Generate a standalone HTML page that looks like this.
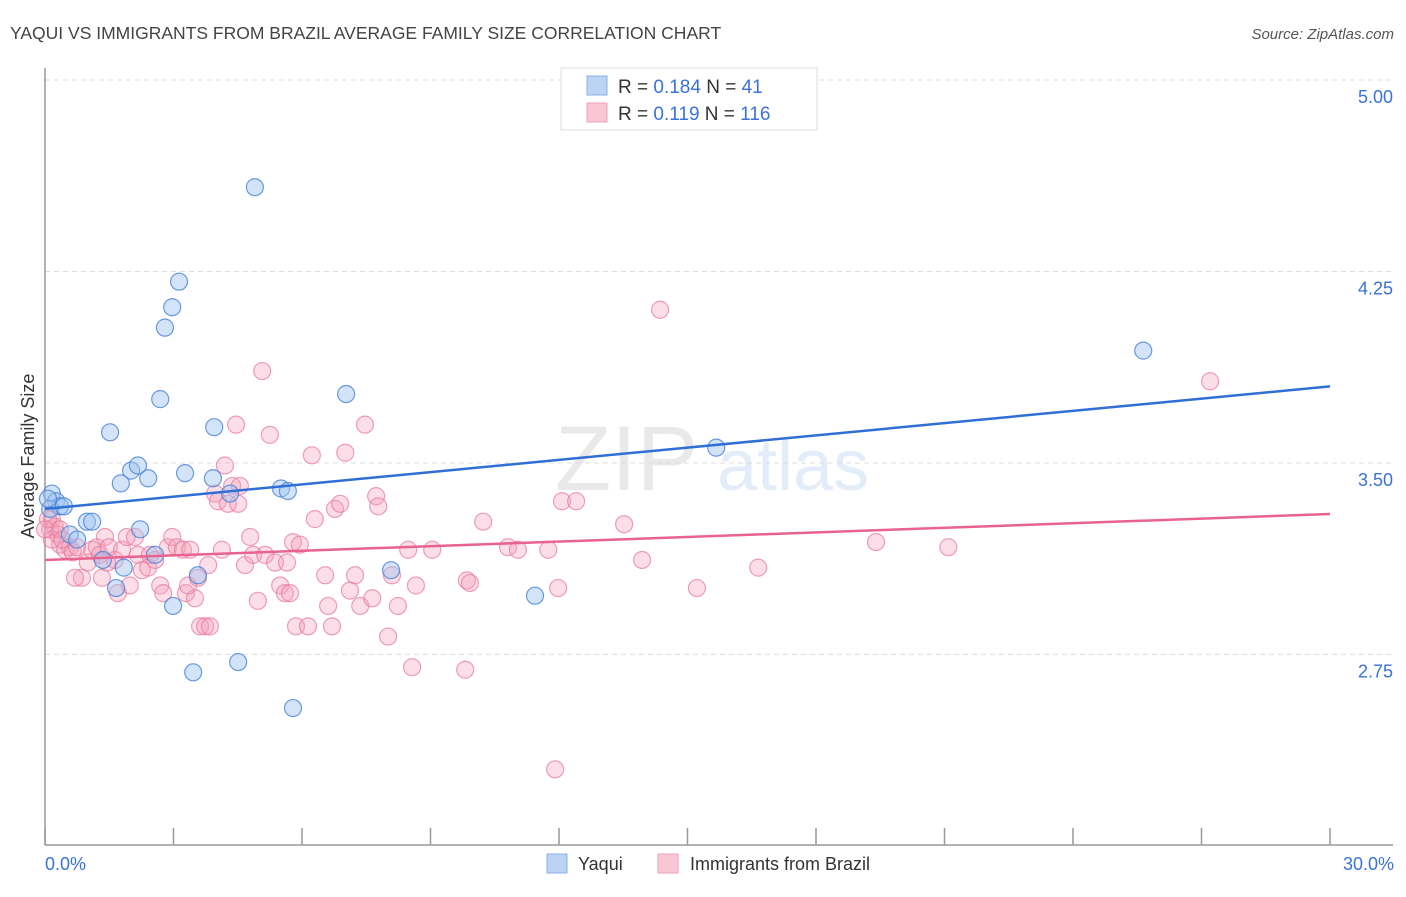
<!DOCTYPE html>
<html><head><meta charset="utf-8"><style>
body{margin:0;background:#fff;font-family:"Liberation Sans",sans-serif;}
svg text{font-family:"Liberation Sans",sans-serif;}
</style></head><body>
<svg id="chart" width="1406" height="892" xmlns="http://www.w3.org/2000/svg">
<text x="10" y="39" font-size="17.5" fill="#444">YAQUI VS IMMIGRANTS FROM BRAZIL AVERAGE FAMILY SIZE CORRELATION CHART</text>
<text x="1394" y="39" font-size="15" fill="#555" text-anchor="end" font-style="italic">Source: ZipAtlas.com</text>
<g opacity="0.18">
<text x="555" y="490" font-size="92" font-family="Liberation Serif" fill="#888">ZIP</text>
<text x="717" y="490" font-size="72" fill="#6b9ee0">atlas</text>
</g>
<g id="grid"></g>
<g id="axes"></g>
<g id="pink"></g>
<g id="blue"></g>
<g id="lines"></g>
<text transform="translate(34,456) rotate(-90)" font-size="18" fill="#333" text-anchor="middle">Average Family Size</text>
<text x="45" y="870" font-size="18" fill="#3a72d8">0.0%</text>
<text x="1394" y="870" font-size="18" fill="#3a72d8" text-anchor="end">30.0%</text>
<g>
<rect x="561" y="68" width="256" height="62" fill="#fff" stroke="#ddd"/>
<rect x="587" y="76" width="20" height="19" fill="#bcd4f4" stroke="#8ab0e8"/>
<rect x="587" y="103" width="20" height="19" fill="#f8c6d4" stroke="#eea3bb"/>
<text x="618" y="93" font-size="19" fill="#333">R = <tspan fill="#3a72d8">0.184</tspan>   N = <tspan fill="#3a72d8">  41</tspan></text>
<text x="618" y="120" font-size="19" fill="#333">R = <tspan fill="#3a72d8"> 0.119</tspan>   N = <tspan fill="#3a72d8">116</tspan></text>
</g>
<g>
<rect x="547" y="854" width="20" height="19" fill="#bcd4f4" stroke="#8ab0e8"/>
<text x="578" y="870" font-size="18" fill="#333">Yaqui</text>
<rect x="658" y="854" width="20" height="19" fill="#f8c6d4" stroke="#eea3bb"/>
<text x="690" y="870" font-size="18" fill="#333">Immigrants from Brazil</text>
</g>
</svg>
<script>
const yTicks=[5.00,4.25,3.50,2.75];
const yTickLabels=["5.00","4.25","3.50","2.75"];
const xTicks=[0,3,6,9,12,15,18,21,24,27,30];
const yaquiX=[0.16,0.26,0.35,0.12,0.44,0.98,1.10,0.58,0.75,1.35,2.41,2.01,2.17,1.52,1.77,2.69,2.80,2.97,3.13,4.90,3.27,3.92,3.95,4.32,5.51,5.67,7.03,2.22,2.57,1.84,1.66,2.99,3.57,3.46,4.51,5.79,8.08,11.44,15.67,25.64,0.07];
const yaquiY=[3.38,3.35,3.33,3.32,3.33,3.27,3.27,3.22,3.20,3.12,3.44,3.47,3.49,3.62,3.42,3.75,4.03,4.11,4.21,4.58,3.46,3.44,3.64,3.38,3.40,3.39,3.77,3.24,3.14,3.09,3.01,2.94,3.06,2.68,2.72,2.54,3.08,2.98,3.56,3.94,3.36];
const brazilX=[0.12,0.16,0.23,0.30,0.35,0.47,0.58,0.65,0.75,0.86,1.00,1.10,1.21,1.28,1.40,1.49,1.63,1.70,1.80,1.91,1.98,2.10,2.17,2.26,2.41,2.45,2.57,2.69,2.76,2.87,2.97,3.08,3.22,3.29,3.39,3.50,3.57,3.62,3.74,3.85,3.81,3.97,4.04,4.13,4.20,4.27,4.37,4.46,4.51,4.55,4.67,4.79,4.86,4.97,5.07,5.14,5.25,5.37,5.49,5.60,5.65,5.72,5.79,5.86,5.95,6.14,6.23,6.30,6.54,6.61,6.70,6.77,6.89,7.01,7.12,7.24,7.36,7.47,7.64,7.73,7.78,8.01,8.10,8.24,8.48,8.57,8.66,9.04,9.81,9.85,9.92,10.23,10.81,11.04,11.75,11.91,11.98,12.07,12.40,13.52,13.94,14.36,15.22,16.65,19.40,21.09,27.20,0.07,0.16,0.00,0.35,1.33,1.45,0.70,3.34,0.40];
const brazilY=[3.24,3.28,3.25,3.22,3.18,3.16,3.17,3.15,3.17,3.05,3.11,3.16,3.17,3.14,3.21,3.17,3.12,2.99,3.16,3.21,3.02,3.21,3.14,3.08,3.09,3.14,3.12,3.02,2.99,3.17,3.21,3.17,3.16,2.99,3.16,2.97,3.05,2.86,2.86,2.86,3.10,3.38,3.35,3.16,3.49,3.34,3.41,3.65,3.34,3.41,3.10,3.21,3.14,2.96,3.86,3.14,3.61,3.11,3.02,2.99,3.11,2.99,3.19,2.86,3.18,2.86,3.53,3.28,3.06,2.94,2.86,3.32,3.34,3.54,3.00,3.06,2.94,3.65,2.97,3.37,3.33,2.82,3.06,2.94,3.16,2.70,3.02,3.16,2.69,3.04,3.03,3.27,3.17,3.16,3.16,2.30,3.01,3.35,3.35,3.26,3.12,4.10,3.01,3.09,3.19,3.17,3.82,3.28,3.20,3.24,3.24,3.05,3.11,3.05,3.02,3.20];
const trendYaqui=[3.32,3.80];
const trendBrazil=[3.12,3.30];
const X0=45,X1=1330,Y0=80,PXU=255.3;
const sx=p=>X0+p*(X1-X0)/30;
const sy=v=>Y0+(5-v)*PXU;
const NS="http://www.w3.org/2000/svg";
function mk(tag,attrs,parent){const e=document.createElementNS(NS,tag);for(const k in attrs)e.setAttribute(k,attrs[k]);parent.appendChild(e);return e;}
const grid=document.getElementById('grid'),axes=document.getElementById('axes');
yTicks.forEach((v,i)=>{
 const l=mk('line',{x1:X0,x2:1393,y1:sy(v),y2:sy(v),stroke:'#ddd','stroke-dasharray':'5,4'},grid);
 
 
 const t=mk('text',{x:1393,y:sy(v)+23,'font-size':18,fill:'#3a72d8','text-anchor':'end'},grid);
 t.textContent=yTickLabels[i];
 
 
});
const ya=mk('line',{x1:X0,x2:X0,y1:68,y2:845,stroke:'#999','stroke-width':1.5},axes);


const xa=mk('line',{x1:X0,x2:1393,y1:845,y2:845,stroke:'#999','stroke-width':1.5},axes);


xTicks.forEach(p=>{
 const t=mk('line',{x1:sx(p),x2:sx(p),y1:828,y2:845,stroke:'#999','stroke-width':1.5},axes);
 
 
});
const pg=document.getElementById('pink');
brazilX.forEach((x,i)=>{
 const c=mk('circle',{cx:sx(x),cy:sy(brazilY[i]),r:8.5,fill:'rgba(244,160,186,0.35)',stroke:'rgba(232,120,155,0.7)','stroke-width':1.2},pg);
 
 
});
const bg=document.getElementById('blue');
yaquiX.forEach((x,i)=>{
 const c=mk('circle',{cx:sx(x),cy:sy(yaquiY[i]),r:8.5,fill:'rgba(160,196,240,0.45)',stroke:'rgba(70,130,215,0.8)','stroke-width':1.2},bg);
 
 
});
const lg=document.getElementById('lines');
const tb=mk('line',{x1:sx(0),x2:sx(30),y1:sy(trendYaqui[0]),y2:sy(trendYaqui[1]),stroke:'#2f6fd6','stroke-width':2.5},lg);


const tp=mk('line',{x1:sx(0),x2:sx(30),y1:sy(trendBrazil[0]),y2:sy(trendBrazil[1]),stroke:'#e8638f','stroke-width':2.5},lg);


</script>
</body></html>
